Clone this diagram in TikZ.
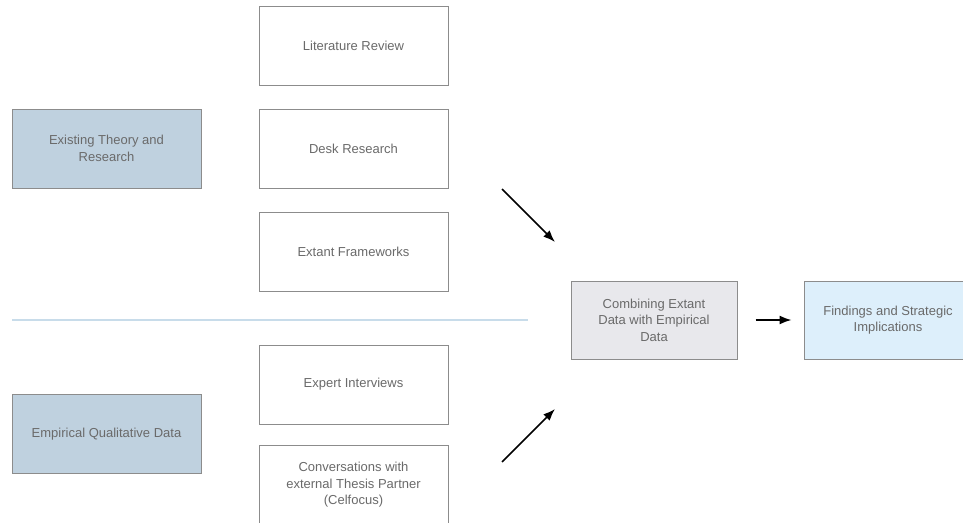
\documentclass[tikz,border=0pt]{standalone}
\usepackage{fontspec}
\setmainfont{Liberation Sans}
\usepackage{xcolor}
\usepackage{tikz}
\usetikzlibrary{positioning, arrows.meta}
\definecolor{boxline}{HTML}{8C8C8C}
\definecolor{boxtext}{HTML}{6A6A6A}
\definecolor{srcfill}{HTML}{BFD1DF}
\definecolor{mixfill}{HTML}{E8E8EC}
\definecolor{outfill}{HTML}{DDEFFB}
\definecolor{sepline}{HTML}{C8DCEA}

\begin{document}
\begin{tikzpicture}[x=1pt, y=-1pt]
\tikzstyle{box}=[rectangle,draw=boxline,line width=1pt,fill=white,text=boxtext,align=center,minimum width=189pt,minimum height=79pt,font=\fontsize{13}{16.5}\selectfont]
\tikzstyle{src}=[box,fill=srcfill]
\useasboundingbox (0,0) rectangle (963,522);
% left column
\node[src] (theory) at (106.5,148.5) {Existing Theory and\\Research};
\node[src] (empirical) at (106.5,434) {Empirical Qualitative Data};
% middle column
\node[box] (litrev) at (353.5,45.5) {Literature Review};
\node[box] (desk) at (353.5,148.5) {Desk Research};
\node[box] (frameworks) at (353.5,252) {Extant Frameworks};
\node[box] (interviews) at (353.5,384.5) {Expert Interviews};
\node[box] (convo) at (353.5,485) {Conversations with\\external Thesis Partner\\(Celfocus)};
% separator
\coordinate (sepL) at (12,320);
\coordinate (sepR) at (528,320);
\draw[sepline,line width=1.5pt] (sepL) -- (sepR);
% right part
\node[box,fill=mixfill,minimum width=166pt,minimum height=78pt] (combine) at (654,320) {Combining Extant\\Data with Empirical\\Data};
\node[box,fill=outfill,minimum width=168pt,minimum height=78pt] (findings) at (888,320) {Findings and Strategic\\Implications};
\coordinate (topA) at (502,189);
\coordinate (topB) at (555,242);
\coordinate (botA) at (502,462);
\coordinate (botB) at (555,409);
\path[-{Latex[length=12pt,width=9pt]},line width=1.6pt]
(topA) edge (topB)
(botA) edge (botB)
(combine) edge [shorten <=18pt, shorten >=12pt] (findings)
;
\end{tikzpicture}
\end{document}
